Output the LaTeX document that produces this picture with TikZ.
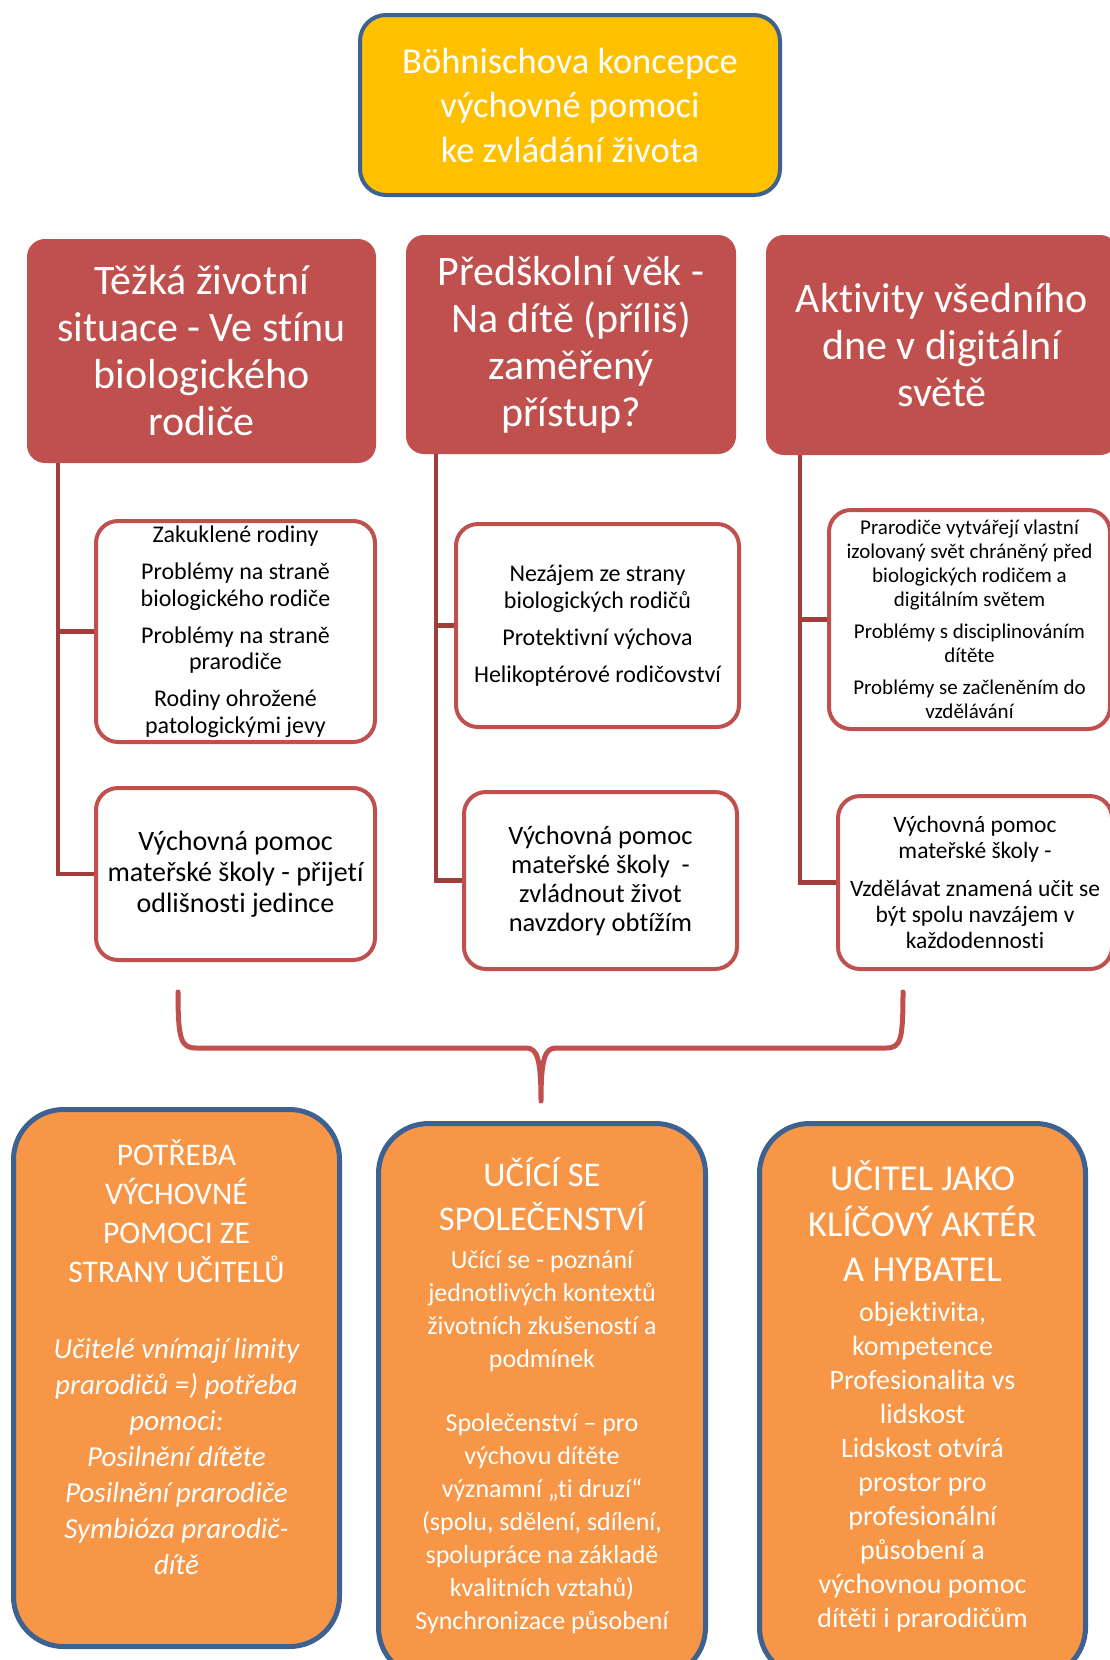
\documentclass[tikz,border=0pt]{standalone}
\usepackage{fontspec}
\setmainfont{Carlito}[Ligatures=NoCommon]
\usepackage{tikz}
\definecolor{gold}{HTML}{FFC000}
\definecolor{navy}{HTML}{3D6190}
\definecolor{brick}{HTML}{C0504D}
\definecolor{darkbrick}{HTML}{A13E3B}
\definecolor{peach}{HTML}{F79646}

\begin{document}
\begin{tikzpicture}[x=1pt, y=-1pt, line width=4pt,
        head/.style={fill=brick, draw=brick, rounded corners=16pt, text=white, align=center, inner sep=0pt, font=\fontsize{42}{47}\selectfont},
        card/.style={draw=brick, fill=white, rounded corners=22pt, align=center, inner sep=0pt},
        base/.style={fill=peach, draw=navy, line width=5pt, rounded corners=50pt, text=white, inner sep=0pt},
        trunk/.style={draw=darkbrick, line width=4.5pt}]
    \useasboundingbox (0,0) rectangle (1110,1660);

    \node[fill=gold, draw=navy, rounded corners=26pt, text=white, align=center, minimum width=420pt, minimum height=180pt, font=\fontsize{36.5}{44.5}\selectfont] (bohn) at (570,105) {Böhnischova koncepce\\výchovné pomoci\\ke zvládání života};

    \node[head, minimum width=345pt, minimum height=220pt] (tezka) at (201.5,351) {Těžká životní\\situace - Ve stínu\\biologického\\rodiče};
    \node[head, minimum width=326pt, minimum height=215pt] (predsk) at (571,344.5) {Předškolní věk -\\Na dítě (příliš)\\zaměřený\\přístup?};
    \node[head, minimum width=348pt, minimum height=216pt] (aktiv) at (942,345) {Aktivity všedního\\dne v digitální\\světě};

    \node[card, minimum width=279pt, minimum height=221pt, font=\fontsize{24}{26.5}\selectfont] (tezka1) at (235.5,631.5) {Zakuklené rodiny\\[10.5pt]Problémy na straně\\biologického rodiče\\[10.5pt]Problémy na straně\\prarodiče\\[10.5pt]Rodiny ohrožené\\patologickými jevy};
    \node[card, minimum width=279pt, minimum height=172pt, font=\fontsize{28}{31}\selectfont] (tezka2) at (235.5,874) {Výchovná pomoc\\mateřské školy - přijetí\\odlišnosti jedince};
    \node[card, minimum width=283pt, minimum height=203pt, font=\fontsize{24}{27}\selectfont] (predsk1) at (597.5,625.5) {Nezájem ze strany\\biologických rodičů\\[10pt]Protektivní výchova\\[10pt]Helikoptérové rodičovství};
    \node[card, minimum width=273pt, minimum height=177pt, font=\fontsize{26.5}{29}\selectfont] (predsk2) at (600.5,880.5) {Výchovná pomoc\\mateřské školy\ \ -\\zvládnout život\\navzdory obtížím};
    \node[card, minimum width=281pt, minimum height=219pt, font=\fontsize{21}{24}\selectfont] (aktiv1) at (969.5,619.5) {Prarodiče vytvářejí vlastní\\izolovaný svět chráněný před\\biologických rodičem a\\digitálním světem\\[8pt]Problémy s disciplinováním\\dítěte\\[8pt]Problémy se začleněním do\\vzdělávání};
    \node[card, minimum width=274pt, minimum height=173pt, font=\fontsize{23.5}{26}\selectfont] (aktiv2) at (975,882.5) {Výchovná pomoc\\mateřské školy -\\[12pt]Vzdělávat znamená učit se\\být spolu navzájem v\\každodennosti};

    \draw[trunk] (tezka.south west) ++(31,0) coordinate (t1) |- (tezka2.west) (t1 |- tezka1.west) -- (tezka1.west);
    \draw[trunk] (predsk.south west) ++(30,0) coordinate (t2) |- (predsk2.west) (t2 |- predsk1.west) -- (predsk1.west);
    \draw[trunk] (aktiv.south west) ++(34,0) coordinate (t3) |- (aktiv2.west) (t3 |- aktiv1.west) -- (aktiv1.west);

    \draw[brick, line width=5pt, line cap=round, line join=round] (178,992) .. controls (178,1040) and (181,1048) .. (196,1048) -- (526,1048) .. controls (537,1048) and (541,1058) .. (541,1101) .. controls (541,1058) and (545,1048) .. (556,1048) -- (886,1048) .. controls (901,1048) and (903,1040) .. (903,992);

    \node[base, minimum width=326pt, minimum height=537pt] (potreba) at (176.5,1378) {\parbox[c][476pt][t]{320pt}{\centering
        {\fontsize{31.5}{39}\selectfont POTŘEBA\\VÝCHOVNÉ\\POMOCI ZE\\STRANY UČITELŮ\par}
        \vspace{40pt}
        {\fontsize{29}{36}\selectfont\itshape Učitelé vnímají limity\\prarodičů =) potřeba\\pomoci:\\Posilnění dítěte\\Posilnění prarodiče\\Symbióza prarodič-\\dítě\par}}};
    \node[base, minimum width=327pt, minimum height=554pt] (ucici) at (542,1400.5) {\parbox[c][485pt][t]{320pt}{\centering
        {\fontsize{34.6}{44}\selectfont UČÍCÍ SE\\SPOLEČENSTVÍ\par}
        \vspace{5pt}
        {\fontsize{26}{33}\selectfont Učící se - poznání\\jednotlivých kontextů\\životních zkušeností a\\podmínek\\[31pt]Společenství – pro\\výchovu dítěte\\významní „ti druzí“\\(spolu, sdělení, sdílení,\\spolupráce na základě\\kvalitních vztahů)\\Synchronizace působení\par}}};
    \node[base, minimum width=326pt, minimum height=554pt] (ucitel) at (922.5,1400.5) {\parbox[c][479pt][t]{320pt}{\centering
        {\fontsize{36.5}{45.5}\selectfont UČITEL JAKO\\KLÍČOVÝ AKTÉR\\A HYBATEL\par}
        \vspace{6pt}
        {\fontsize{28}{34}\selectfont objektivita,\\kompetence\\Profesionalita vs\\lidskost\\Lidskost otvírá\\prostor pro\\profesionální\\působení a\\výchovnou pomoc\\dítěti i prarodičům\par}}};
\end{tikzpicture}
\end{document}
